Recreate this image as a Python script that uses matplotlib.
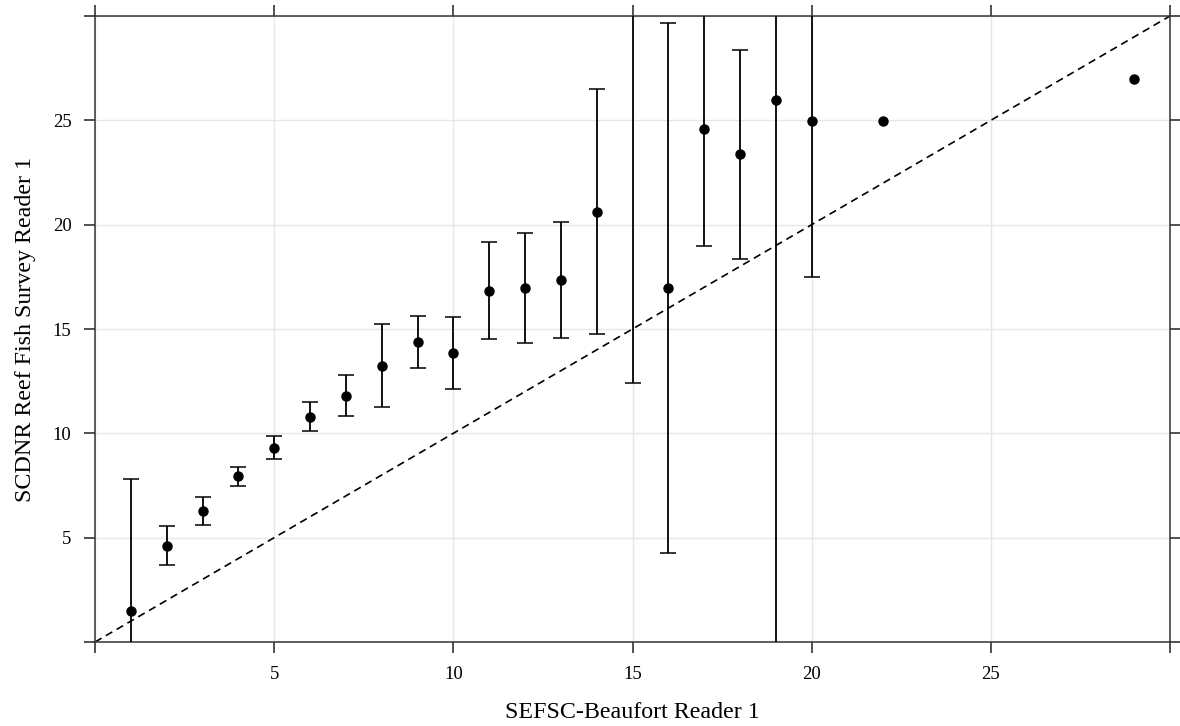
import numpy as np
import matplotlib
matplotlib.use("Agg")
import matplotlib.pyplot as plt

# ---- data ----
reader1_age = [1, 2, 3, 4, 5, 6, 7, 8, 9, 10, 11, 12, 13, 14, 15, 16, 17, 18, 19, 20, 22, 29]
mean_age = [1.50, 4.62, 6.28, 7.95, 9.31, 10.79, 11.81, 13.24, 14.36, 13.85, 16.84, 16.96,
            17.36, 20.63, 32.0, 16.97, 24.60, 23.38, 25.97, 24.97, 24.97, 26.98]
ci_half = [6.31, 0.94, 0.67, 0.46, 0.55, 0.69, 0.97, 2.00, 1.24, 1.72, 2.31, 2.63,
           2.77, 5.86, 19.61, 12.70, 5.63, 5.01, 30.0, 7.47, np.nan, np.nan]
ticks = [0, 5, 10, 15, 20, 25, 30]
tick_labels = ["", "5", "10", "15", "20", "25", ""]
xlabel = "SEFSC-Beaufort Reader 1"
ylabel = "SCDNR Reef Fish Survey Reader 1"

plt.rcParams['font.family'] = ['Liberation Serif', 'DejaVu Serif']

W, H = 1180, 726
fig = plt.figure(figsize=(W / 100, H / 100), dpi=100)
ax = fig.add_axes([95 / W, (H - 642) / H, (1170 - 95) / W, (642 - 16) / H])

ax.set_xlim(0, 30)
ax.set_ylim(0, 30)

ax.grid(True, color='#e6e6e6', linewidth=1.0, zorder=0)
ax.set_axisbelow(True)

# identity line
ax.plot([0, 30], [0, 30], color='black', linestyle=(0, (4.5, 3)), linewidth=1.2, zorder=2)

x = np.array(reader1_age, dtype=float)
m = np.array(mean_age)
c = np.array(ci_half)
has = ~np.isnan(c)
ax.errorbar(x[has], m[has], yerr=c[has], fmt='none', ecolor='black',
            elinewidth=1.3, capsize=5.5, capthick=1.1, zorder=3)
ax.plot(x, m, 'o', color='black', markersize=6.5, zorder=4, clip_on=True)

ax.set_xticks(ticks)
ax.set_xticklabels(tick_labels)
ax.set_yticks(ticks)
ax.set_yticklabels(tick_labels)

ax.tick_params(axis='both', which='both', direction='out', length=8, width=1.1,
               color='#222222', labelsize=13.5, pad=9,
               top=True, right=True, labeltop=False, labelright=False)

for s in ax.spines.values():
    s.set_color('#333333')
    s.set_linewidth(1.1)

ax.set_xlabel(xlabel, fontsize=17.3, labelpad=14)
ax.set_ylabel(ylabel, fontsize=17.3, labelpad=12)

fig.savefig("out.png", dpi=100)
